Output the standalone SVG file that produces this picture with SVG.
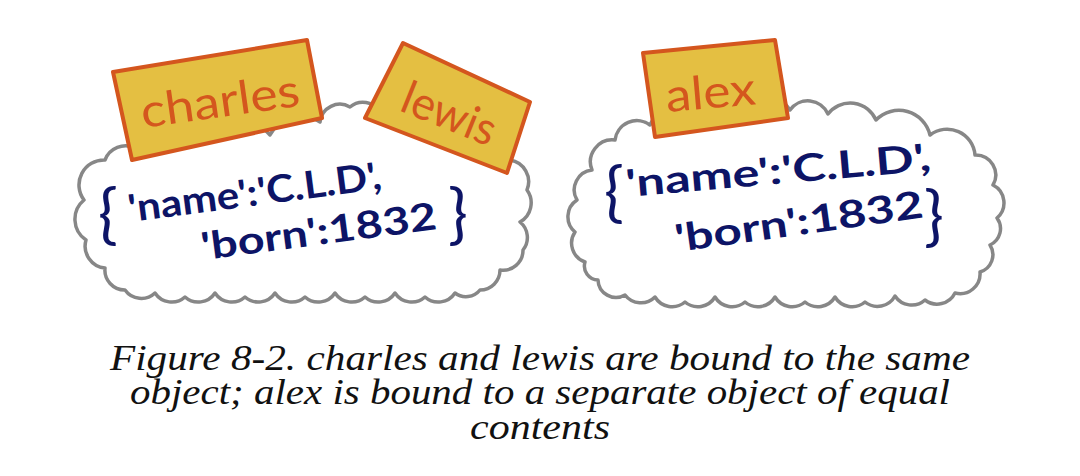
<svg xmlns="http://www.w3.org/2000/svg" width="1080" height="476" viewBox="0 0 1080 476">
<style>
.cloud{fill:#ffffff;stroke:#878787;stroke-width:3.5;stroke-linejoin:round}
.lbl{fill:#E4BF42;stroke:#D4561E;stroke-width:4;stroke-linejoin:round}
.lt{font-family:Lato,"Open Sans",sans-serif;fill:#D4561E;font-size:46px}
.obj{font-family:Lato,"Open Sans",sans-serif;fill:#0D1466;font-size:38px;font-weight:bold}
.br{font-family:Lato,"Open Sans",sans-serif;fill:#0D1466;font-size:66px}
.cap{font-family:"Liberation Serif",serif;font-style:italic;font-size:36px;fill:#111;text-anchor:middle}
</style>
<rect width="1080" height="476" fill="#ffffff"/>
<g id="object-left">
<path class="cloud" d="M105,160 A22 22 0 0 1 135,148 A45 45 0 0 1 200,140 A45 45 0 0 1 270,135 A35 35 0 0 1 320,122 A20 20 0 0 1 350,107 A20 20 0 0 1 380,112 A35 35 0 0 1 430,125 A35 35 0 0 1 480,140 A22 22 0 0 1 510,160 A22 22 0 0 1 527,190 A22 22 0 0 1 520,222 A20 20 0 0 1 523,250 A20 20 0 0 1 500,270 A20 20 0 0 1 480,290 A18 18 0 0 1 455,293 A20 20 0 0 1 425,297 A20 20 0 0 1 395,293 A20 20 0 0 1 365,297 A20 20 0 0 1 335,293 A20 20 0 0 1 305,297 A20 20 0 0 1 275,293 A20 20 0 0 1 245,297 A20 20 0 0 1 215,293 A20 20 0 0 1 185,297 A20 20 0 0 1 155,293 A20 20 0 0 1 125,290 A20 20 0 0 1 105,268 A22 22 0 0 1 86,240 A25 25 0 0 1 84,200 A25 25 0 0 1 105,160 Z"/>
<text class="br" x="98" y="236">{</text>
<text class="obj" x="130" y="222" transform="rotate(-7.5 130 222)" textLength="255" lengthAdjust="spacingAndGlyphs">'name':'C.L.D',</text>
<text class="obj" x="203" y="260" transform="rotate(-7.5 203 260)" textLength="237" lengthAdjust="spacingAndGlyphs">'born':1832</text>
<text class="br" x="448" y="236">}</text>
</g>
<g id="object-right">
<path class="cloud" d="M615,140 A22 22 0 0 1 650,125 A40 40 0 0 1 720,118 A40 40 0 0 1 790,110 A22 22 0 0 1 828,114 A28 28 0 0 1 876,120 A32 32 0 0 1 930,135 A28 28 0 0 1 975,155 A20 20 0 0 1 993,185 A20 20 0 0 1 997,218 A18 18 0 0 1 990,245 A18 18 0 0 1 980,272 A20 20 0 0 1 955,293 A20 20 0 0 1 925,300 A20 20 0 0 1 895,296 A20 20 0 0 1 865,302 A20 20 0 0 1 835,297 A20 20 0 0 1 805,302 A20 20 0 0 1 775,297 A20 20 0 0 1 745,302 A20 20 0 0 1 715,297 A20 20 0 0 1 685,302 A20 20 0 0 1 655,297 A20 20 0 0 1 625,295 A18 18 0 0 1 598,280 A14 14 0 0 1 585,262 A20 20 0 0 1 575,232 A20 20 0 0 1 577,200 A20 20 0 0 1 592,170 A22 22 0 0 1 615,140 Z"/>
<text class="br" x="604" y="214">{</text>
<text class="obj" x="627" y="197" transform="rotate(-5 627 197)" textLength="306" lengthAdjust="spacingAndGlyphs">'name':'C.L.D',</text>
<text class="obj" x="677" y="252" transform="rotate(-8 677 252)" textLength="250" lengthAdjust="spacingAndGlyphs">'born':1832</text>
<text class="br" x="924" y="238">}</text>
</g>
<g id="label-charles">
<polygon class="lbl" points="113,72 307,40 322,118 132,160"/>
<text class="lt" x="143" y="128" transform="rotate(-8 143 128)" textLength="160" lengthAdjust="spacingAndGlyphs">charles</text>
</g>
<g id="label-lewis">
<polygon class="lbl" points="403,43 530,102 507,173 365,118"/>
<text class="lt" x="398" y="110" transform="rotate(22 398 110)" textLength="98" lengthAdjust="spacingAndGlyphs">lewis</text>
</g>
<g id="label-alex">
<polygon class="lbl" points="643,53 775,40 788,118 655,137"/>
<text class="lt" x="667" y="112" transform="rotate(-5 667 112)" textLength="90" lengthAdjust="spacingAndGlyphs">alex</text>
</g>
<g id="connectors"/>
<g id="caption">
<text class="cap" x="540" y="370" textLength="860" lengthAdjust="spacingAndGlyphs">Figure 8-2. charles and lewis are bound to the same</text>
<text class="cap" x="540" y="404" textLength="820" lengthAdjust="spacingAndGlyphs">object; alex is bound to a separate object of equal</text>
<text class="cap" x="540" y="439" textLength="140" lengthAdjust="spacingAndGlyphs">contents</text>
</g>
</svg>
